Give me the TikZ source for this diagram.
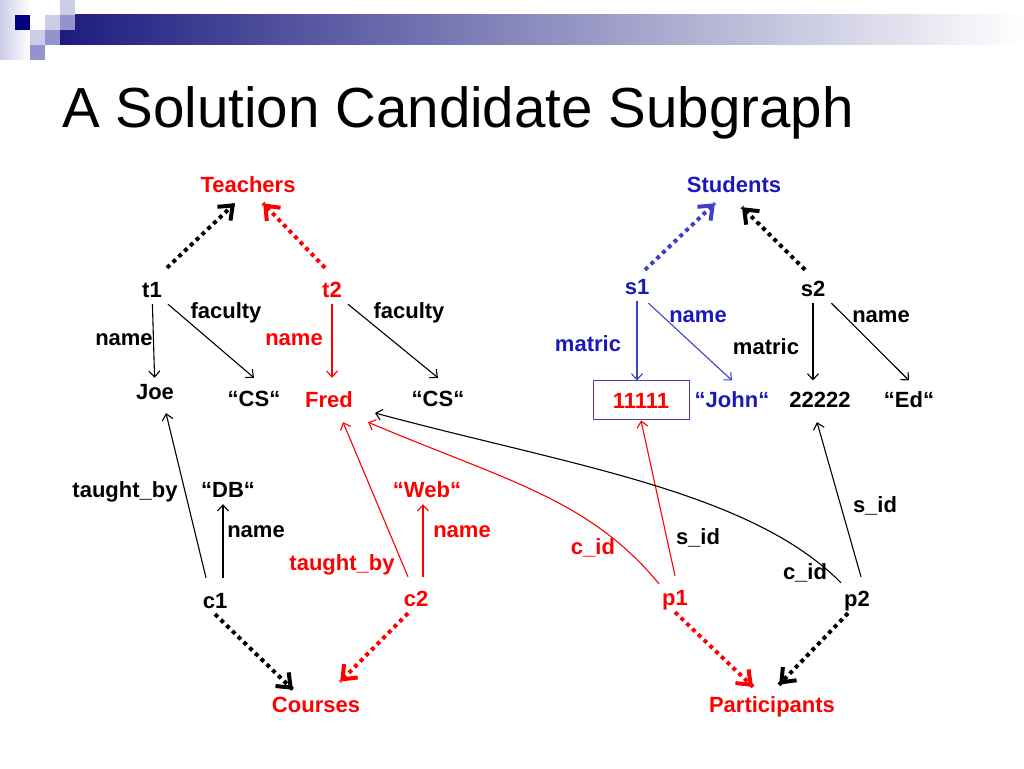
\documentclass[tikz,border=0pt]{standalone}
\usepackage{fontspec}
\setmainfont{Liberation Sans}
\usetikzlibrary{arrows.meta,decorations.markings}

\definecolor{navy}{RGB}{0,0,128}
\definecolor{barnavy}{RGB}{28,28,128}
\definecolor{lav}{RGB}{204,204,230}
\definecolor{midlav}{RGB}{148,148,204}
\definecolor{tblue}{RGB}{26,26,186}
\definecolor{lblue}{RGB}{64,64,200}

\tikzset{
  lbl/.style={font=\fontsize{22}{26}\selectfont\bfseries, text height=16pt, text depth=0pt, inner sep=6pt, anchor=base},
  obj/.style={lbl, text height=24pt},
  thinarr/.style={-{Straight Barb[length=6pt,width=11pt]}, line width=1.1pt},
  dotarr/.style={line width=4pt, dash pattern=on 4pt off 4pt,
    postaction={decorate, decoration={markings,
      mark=at position 1 with {\pgfsetdash{}{0pt}\arrow{Straight Barb[length=12pt,width=19pt]}}}}}
}

\begin{document}
\begin{tikzpicture}[x=1pt,y=1pt]
   \useasboundingbox (0,0) rectangle (1024,768);

   % slide corner
   \shade[left color=lav, right color=white] (0,708) rectangle (30,768);
   \shade[left color=barnavy, right color=white] (60,723) rectangle (1024,753);
   \fill[navy] (15,738) rectangle (30,753);
   \fill[lav] (30,723) rectangle (45,738);
   \fill[midlav] (30,708) rectangle (45,723);
   \fill[lav] (45,738) rectangle (60,753);
   \fill[midlav] (45,723) rectangle (60,738);
   \fill[lav] (60,753) rectangle (75,768);
   \fill[midlav] (60,738) rectangle (75,753);

   \node[anchor=base west, inner sep=0pt, font=\fontsize{56.5}{60}\selectfont] (title) at (62,640) {A Solution Candidate Subgraph};

   % classes
   \node[lbl,text=red] (teachers) at (248,575) {Teachers};
   \node[lbl,text=tblue] (students) at (734,575) {Students};
   \node[lbl,text=red] (courses) at (316,56) {Courses};
   \node[lbl,text=red] (participants) at (772,56) {Participants};

   % objects
   \node[lbl] (t1) at (152,470) {t1};
   \node[lbl,text=red] (t2) at (332,470) {t2};
   \node[lbl,text=tblue] (s1) at (637,473) {s1};
   \node[lbl] (s2) at (813,471) {s2};
   \node[obj] (c1) at (215,160) {c1};
   \node[obj,text=red] (c2) at (416,161) {c2};
   \node[obj,text=red] (p1) at (675,162) {p1};
   \node[obj] (p2) at (857,161) {p2};

   % values
   \node[lbl] (joe) at (155,368) {Joe};
   \node[lbl] (cs1) at (254,361) {“CS“};
   \node[lbl,text=red] (fred) at (329,360) {Fred};
   \node[lbl] (cs2) at (438,361) {“CS“};
   \node[lbl,text=red,draw=lblue,line width=1pt,anchor=center,minimum width=96pt,minimum height=39pt] (m1) at (641,367.5) {11111};
   \node[lbl,text=tblue] (john) at (732,360) {“John“};
   \node[lbl] (m2) at (820,360) {22222};
   \node[lbl] (ed) at (909,360) {“Ed“};
   \node[lbl] (db) at (228,270) {“DB“};
   \node[lbl,text=red] (web) at (427,270) {“Web“};

   % edge labels
   \node[lbl] (fac1) at (226,449) {faculty};
   \node[lbl] (fac2) at (409,449) {faculty};
   \node[lbl] (nm1) at (124,422) {name};
   \node[lbl,text=red] (nm2) at (294,422) {name};
   \node[lbl,text=tblue] (nm3) at (698,445) {name};
   \node[lbl,text=tblue] (mat1) at (588,416) {matric};
   \node[lbl] (mat2) at (766,413) {matric};
   \node[lbl] (nm4) at (881,445) {name};
   \node[lbl] (tb1) at (125,270) {taught\_by};
   \node[lbl] (nm5) at (256,230) {name};
   \node[lbl,text=red] (nm6) at (462,230) {name};
   \node[lbl,text=red] (tb2) at (342,197) {taught\_by};
   \node[lbl,text=red] (cid1) at (593,213) {c\_id};
   \node[lbl] (sid1) at (698,223) {s\_id};
   \node[lbl] (cid2) at (805,188) {c\_id};
   \node[lbl] (sid2) at (875,255) {s\_id};

   % instance of
   \draw[dotarr] ([shift={(15,8)}]t1.north) -- ([shift={(-13,-4)}]teachers.south);
   \draw[dotarr,red] ([shift={(-7,8)}]t2.north) -- ([shift={(15,-4)}]teachers.south);
   \draw[dotarr,lblue] ([shift={(8,3)}]s1.north) -- ([shift={(-19,-4)}]students.south);
   \draw[dotarr] ([shift={(-8,5)}]s2.north) -- ([shift={(8,-8)}]students.south);
   \draw[dotarr] (c1.south) -- ([xshift=-23pt]courses.north);
   \draw[dotarr,red] ([xshift=-8pt]c2.south) -- ([shift={(24,8)}]courses.north);
   \draw[dotarr,red] (p1.south) -- ([shift={(-19,3)}]participants.north);
   \draw[dotarr] ([xshift=-9pt]p2.south) -- ([shift={(7,5)}]participants.north);

   % attributes
   \path[thinarr] (t1) edge (joe);
   \path[thinarr] (t1.south east) edge (cs1.north |- joe.north);
   \path[thinarr,red] (t2.south) edge (t2.south |- joe.north);
   \path[thinarr] (t2.south east) edge (cs2.north |- joe.north);
   \path[thinarr,lblue] (s1.south) edge (s1.south |- m1.north);
   \path[thinarr,lblue] ([shift={(-7,-2)}]s1.south east) edge (john.north |- m1.north);
   \path[thinarr] (s2.south) edge (s2.south |- m1.north);
   \path[thinarr] (s2.south east) edge (ed.north |- m1.north);
   \path[thinarr] ([xshift=-9pt]c1.north) edge ([shift={(11,-7)}]joe.south);
   \path[thinarr] ([xshift=8pt]c1.north) edge ([xshift=-5pt]db.south);
   \path[thinarr,red] ([xshift=-8pt]c2.north) edge ([shift={(14,-8)}]fred.south);
   \path[thinarr,red] ([xshift=7pt]c2.north) edge ([xshift=-4pt]web.south);
   \path[thinarr,red] (p1.north) edge (m1.south);
   \path[thinarr] ([xshift=4pt]p2.north) edge ([shift={(-3,-8)}]m2.south);

   \draw[thinarr,red] ([shift={(3,-8)}]p1.north west) .. controls +(-70,85) and +(138,-58.5) .. ([shift={(9,-8)}]fred.south east);
   \draw[thinarr] ([shift={(3,-6)}]p2.north west) .. controls +(-91,92) and +(193,-52) .. ([shift={(16,-13)}]fred.east);
\end{tikzpicture}
\end{document}
